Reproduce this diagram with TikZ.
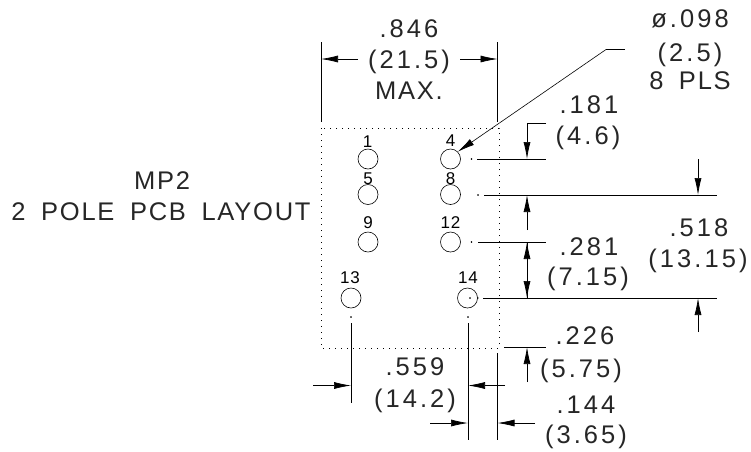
\documentclass[tikz,border=0pt]{standalone}
\usepackage{fontspec}
\usepackage{tikz}
\usetikzlibrary{arrows.meta}
\newfontfamily\cadfont[LetterSpace=12,WordSpace=1.1]{Liberation Sans}
\newfontfamily\wordfont[LetterSpace=7,WordSpace=1.75]{Liberation Sans}
\newfontfamily\pinfont[LetterSpace=6]{Liberation Sans}

\tikzset{
	dimtext/.style={inner sep=0pt, anchor=base, text=black!85, font=\cadfont\fontsize{25.5}{25.5}\selectfont},
	wordtext/.style={dimtext, font=\wordfont\fontsize{25.5}{25.5}\selectfont},
	pintext/.style={inner sep=0pt, anchor=base, font=\pinfont\fontsize{17}{17}\selectfont},
	hole/.style={draw, circle, minimum size=20pt, inner sep=0pt, line width=0.6pt},
	extline/.style={line width=0.7pt},
	dimarrow/.style={line width=0.7pt, -{Latex[length=17pt,width=7pt]}},
	dotdot/.style={dotted, line width=0.8pt, dash pattern=on 0.9pt off 5.1pt}
}

\begin{document}
\begin{tikzpicture}[x=1pt,y=-1pt]
	\useasboundingbox (0,0) rectangle (751,451);

	\draw[dotdot] (321,128) rectangle (499,348);

	\node[hole] (h1) at (368,159) {};
	\node[hole] (h4) at (450.5,159) {};
	\node[hole] (h5) at (368,194.5) {};
	\node[hole] (h8) at (450.5,194.5) {};
	\node[hole] (h9) at (368,242) {};
	\node[hole] (h12) at (450.5,242) {};
	\node[hole] (h13) at (351,298) {};
	\node[hole] (h14) at (467.5,298) {};

	\node[pintext] (p1) at (367.5,147) {1};
	\node[pintext] (p4) at (450.5,146) {4};
	\node[pintext] (p5) at (368,184) {5};
	\node[pintext] (p8) at (450.5,184) {8};
	\node[pintext] (p9) at (368,228) {9};
	\node[pintext] (p12) at (450.5,228) {12};
	\node[pintext] (p13) at (350,283) {13};
	\node[pintext] (p14) at (468,283) {14};

	\node[wordtext] (t1a) at (162,189) {MP2};
	\node[wordtext] (t1b) at (161,220) {2 POLE PCB LAYOUT};

	\node[dimtext] (w1) at (409,37) {.846};
	\node[dimtext] (w2) at (409,68) {(21.5)};
	\node[wordtext] (w3) at (409,99) {MAX.};

	\node[dimtext] (d1) at (690,27) {ø.098};
	\node[dimtext] (d2) at (690,61) {(2.5)};
	\node[wordtext] (d3) at (690,89) {8 PLS};

	\node[dimtext] (a1) at (589,113) {.181};
	\node[dimtext] (a2) at (588,144) {(4.6)};
	\node[dimtext] (b1) at (589,255) {.281};
	\node[dimtext] (b2) at (588,285) {(7.15)};
	\node[dimtext] (c1) at (699,236) {.518};
	\node[dimtext] (c2) at (698,267) {(13.15)};
	\node[dimtext] (e1) at (585,344) {.226};
	\node[dimtext] (e2) at (581,377) {(5.75)};
	\node[dimtext] (f1) at (415,375) {.559};
	\node[dimtext] (f2) at (415,407) {(14.2)};
	\node[dimtext] (g1) at (586,413) {.144};
	\node[dimtext] (g2) at (586,443) {(3.65)};

	\coordinate (wl) at (321,59);
	\coordinate (wr) at (497.5,59);
	\coordinate (wa) at (358,59);
	\coordinate (wb) at (460,59);
	\draw[extline] (321,42) -- (321,122);
	\draw[extline] (497.5,42) -- (497.5,122);
	\draw[dimarrow] (wa) -- (wl);
	\draw[dimarrow] (wb) -- (wr);

	\coordinate (lead) at (606,49.5);
	\draw[extline] (625,49.5) -- (lead);
	\draw[dimarrow, line width=0.6pt] (lead) -- (h4.north east);

	\coordinate (y4) at (477,159);
	\coordinate (y8) at (484,195);
	\coordinate (y12) at (478,242);
	\coordinate (y14) at (483,298);
	\draw[extline] (y4) -- (546,159);
	\draw[extline] (y8) -- (717,195);
	\draw[extline] (y12) -- (546,242);
	\draw[extline] (y14) -- (717,298);
	\filldraw (471.5,159) circle (0.5pt);
	\filldraw (478,195) circle (0.5pt);
	\filldraw (471.5,242) circle (0.5pt);
	\filldraw (470,298) circle (0.5pt);
	\filldraw (h14.east) circle (0.5pt);

	\coordinate (a181) at (527,159);
	\coordinate (a8) at (527,195);
	\coordinate (a12) at (527,242);
	\coordinate (a14) at (527,298);
	\coordinate (a226) at (527,347);
	\draw[dimarrow] (546,123) -- (527,123) -- (a181);
	\draw[dimarrow] (527,230) -- (a8);
	\draw[dimarrow] (a12) -- (a14);
	\draw[dimarrow] (a14) -- (a12);
	\draw[dimarrow] (698,159) -- (698,195);
	\draw[dimarrow] (698,332) -- (698,298);
	\draw[extline] (504,347) -- (546,347);
	\draw[dimarrow] (527,382) -- (a226);

	\coordinate (x13) at (351,385.5);
	\coordinate (x14) at (468,385.5);
	\coordinate (x15) at (468,423);
	\coordinate (x16) at (497.5,423);
	\filldraw (351,317) circle (0.5pt);
	\filldraw (468,317) circle (0.5pt);
	\draw[extline] (351,323) -- (351,403);
	\draw[extline] (468,323) -- (468,440);
	\draw[extline] (497.5,353) -- (497.5,440);
	\draw[dimarrow] (313,385.5) -- (x13);
	\draw[dimarrow] (505,385.5) -- (x14);
	\draw[dimarrow] (430,423) -- (x15);
	\draw[dimarrow] (535,423) -- (x16);
\end{tikzpicture}
\end{document}
